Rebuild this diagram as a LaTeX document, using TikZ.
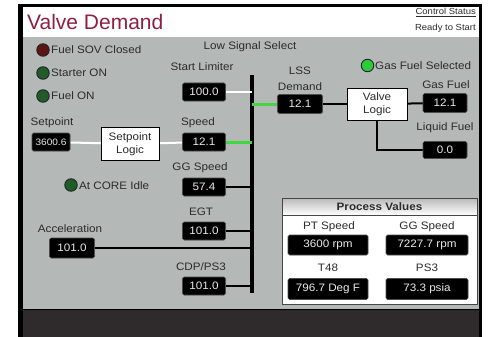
\documentclass[tikz,border=0pt]{standalone}
\usepackage{fontspec}
\setmainfont{Liberation Sans}
\newfontfamily\lblfont{Liberation Sans}[FakeStretch=1.08]
\definecolor{panel}{HTML}{B4B8B7}
\definecolor{titlered}{HTML}{8E1F3F}
\definecolor{labtxt}{HTML}{2B2B2B}
\definecolor{darkbar}{HTML}{2F2B2C}
\definecolor{lgreen}{HTML}{3FD83F}
\definecolor{ledred}{HTML}{5C1414}
\definecolor{ledgreen}{HTML}{1F5C2A}
\definecolor{ledbright}{HTML}{2BCB3A}
\tikzset{
  lab/.style={font=\lblfont\fontsize{10.8}{12}\selectfont, text=labtxt, inner sep=0},
  val/.style={rectangle, rounded corners=1.5pt, fill=black, draw=gray!60!black, line width=0.6pt,
    text=white!92!black, font=\lblfont\fontsize{10.8}{12}\selectfont,
    minimum width=43pt, minimum height=18pt, inner sep=1pt},
  logic/.style={rectangle, fill=white, draw=black, line width=0.8pt, align=center,
    font=\lblfont\fontsize{10.8}{12.5}\selectfont, text=labtxt,
    minimum width=58pt, minimum height=33pt, inner sep=1pt},
  wline/.style={white, line width=2pt},
  gline/.style={lgreen, line width=3pt},
  bline/.style={black, line width=2pt},
  led/.style={circle, minimum size=12.5pt, inner sep=0, draw=black!85, line width=0.9pt},
}
\begin{document}
\begin{tikzpicture}[x=1pt,y=-1pt]
\useasboundingbox (0,0) rectangle (490,337);
% frame
\fill[black] (18,4) rectangle (482,337);
\fill[white] (23,7) rectangle (479,37);
\fill[panel] (23,37) rectangle (479,309);
\fill[darkbar] (23,310) rectangle (479,337);
% title area
\node[anchor=base west, inner sep=0, text=titlered, font=\fontsize{21}{24}\selectfont] (title) at (27,30) {Valve Demand};
\node[anchor=base east, inner sep=0, text=labtxt, font=\lblfont\fontsize{8.8}{10}\selectfont] (cs) at (476,15) {\underline{Control Status}};
\node[anchor=base east, inner sep=0, text=labtxt, font=\lblfont\fontsize{8.8}{10}\selectfont] (rs) at (476,31) {Ready to Start};
% indicators
\node[led, fill=ledred] (i1) at (43,50) {};
\node[lab, anchor=west] (i1t) at (51,50) {Fuel SOV Closed};
\node[led, fill=ledgreen] (i2) at (43,73) {};
\node[lab, anchor=west] (i2t) at (51,73) {Starter ON};
\node[led, fill=ledgreen] (i3) at (43,96) {};
\node[lab, anchor=west] (i3t) at (51,96) {Fuel ON};
\node[led, fill=ledgreen] (i4) at (71,185) {};
\node[lab, anchor=west] (i4t) at (79,186) {At CORE Idle};
\node[led, fill=ledbright] (i5) at (367.5,65.5) {};
\node[lab, anchor=west] (i5t) at (375,66) {Gas Fuel Selected};
% labels
\node[lab] (lssel) at (250,47) {Low Signal Select};
\node[lab] (slt) at (202,67) {Start Limiter};
\node[lab] (spdt) at (198,123) {Speed};
\node[lab] (ggt) at (200,168) {GG Speed};
\node[lab] (egtt) at (201,212) {EGT};
\node[lab] (cdpt) at (201,267) {CDP/PS3};
\node[lab] (acct) at (70,229) {Acceleration};
\node[lab] (spt) at (52,123) {Setpoint};
\node[lab] (lsst1) at (300,71) {LSS};
\node[lab] (lsst2) at (300,87) {Demand};
\node[lab] (gft) at (446,85) {Gas Fuel};
\node[lab] (lft) at (445,128) {Liquid Fuel};
% low signal select bar
\coordinate (bt) at (252,75);
\coordinate (bb) at (252,293);
\draw[black, line width=3.5pt] (bt) -- (bb);
% value box centres
\coordinate (slc) at (204,92);
\coordinate (spdc) at (204,142);
\coordinate (ggc) at (204,187);
\coordinate (egtc) at (204,231);
\coordinate (cdpc) at (204,286);
\coordinate (accc) at (72,248);
\coordinate (spc) at (51,142);
\coordinate (lssc) at (300,104);
\coordinate (gfc) at (445,103);
\coordinate (lfc) at (445,150);
\coordinate (splc) at (130,144);
\coordinate (vlc) at (377,104);
% connectors
\draw[wline] (spc) -- (splc);
\draw[wline] (splc) -- (spdc);
\draw[wline] (slc) -- (slc -| bt);
\draw[gline] (spdc) -- (spdc -| bt);
\draw[gline] (lssc) -- (lssc -| bt);
\draw[bline] (ggc) -- (ggc -| bt);
\draw[bline] (egtc) -- (egtc -| bt);
\draw[bline] (accc) -- (accc -| bt);
\draw[bline] (cdpc) -- (cdpc -| bt);
\draw[bline] (lssc) -- (vlc);
\draw[bline] (vlc) -- (gfc);
\draw[bline] (vlc) |- (lfc);
% boxes
\node[val] (sl) at (slc) {100.0};
\node[val] (spd) at (spdc) {12.1};
\node[val] (gg) at (ggc) {57.4};
\node[val] (egt) at (egtc) {101.0};
\node[val] (cdp) at (cdpc) {101.0};
\node[val, minimum width=45pt, minimum height=20pt] (acc) at (accc) {101.0};
\node[val, minimum width=38pt, inner sep=0.5pt, font=\lblfont\fontsize{9.3}{11}\selectfont] (sp) at (spc) {3600.6};
\node[val, minimum width=45pt, minimum height=19pt] (lss) at (lssc) {12.1};
\node[val, minimum width=44pt, minimum height=19pt] (gf) at (gfc) {12.1};
\node[val, minimum width=44pt, minimum height=17pt] (lf) at (lfc) {0.0};
\node[logic] (spl) at (splc) {Setpoint\\Logic};
\node[logic, minimum width=60pt, minimum height=32pt] (vl) at (vlc) {Valve\\Logic};
% process values panel
\node[draw=gray!55!black, fill=white, line width=0.8pt, minimum width=195pt, minimum height=106pt, inner sep=0] (pv) at (379.5,251) {};
\node[draw=gray!55!black, line width=0.8pt, top color=gray!55, bottom color=white, minimum width=195pt, minimum height=17pt, inner sep=0, anchor=north, text=labtxt, font=\lblfont\bfseries\fontsize{10.8}{12}\selectfont] (pvh) at (pv.north) {Process Values};
\node[lab] (ptt) at (329,227) {PT Speed};
\node[lab] (ggt2) at (427,227) {GG Speed};
\node[lab] (t48t) at (328,268) {T48};
\node[lab] (ps3t) at (427,268) {PS3};
\node[val, minimum width=80pt, minimum height=20pt] (ptv) at (328,245) {3600 rpm};
\node[val, minimum width=82pt, minimum height=20pt] (ggv) at (427,245) {7227.7 rpm};
\node[val, minimum width=80pt, minimum height=21pt] (t48v) at (328,289) {796.7 Deg F};
\node[val, minimum width=82pt, minimum height=21pt] (ps3v) at (427,289) {73.3 psia};
\end{tikzpicture}
\end{document}
